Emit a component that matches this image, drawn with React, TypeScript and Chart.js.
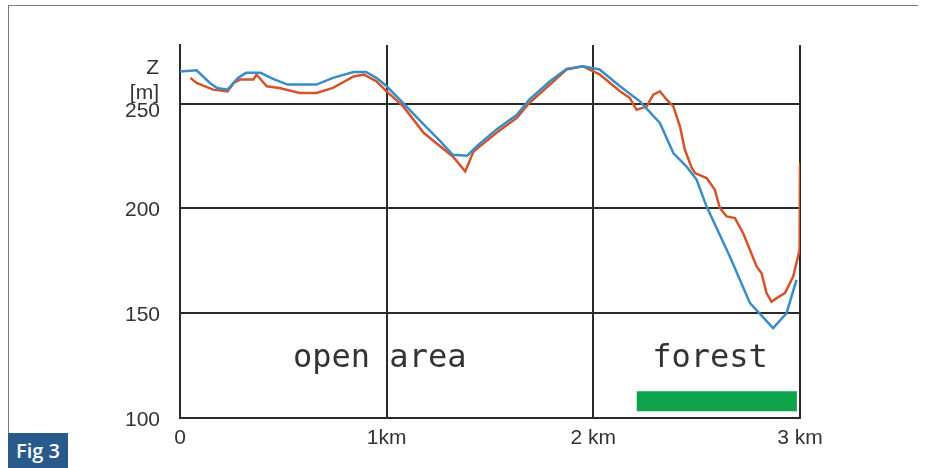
import React, { useEffect, useRef } from 'react';
import { Chart, registerables, ChartConfiguration, Plugin } from 'chart.js';

Chart.register(...registerables);

// Elevation profile, distance in km, height in m
const blueKm = [0, 0.08, 0.145, 0.18, 0.23, 0.28, 0.32, 0.39, 0.45, 0.52, 0.66, 0.74, 0.84, 0.9, 0.95, 1.0, 1.08, 1.18, 1.26, 1.32, 1.39, 1.435, 1.53, 1.63, 1.69, 1.79, 1.87, 1.95, 2.03, 2.129, 2.225, 2.322, 2.387, 2.451, 2.5, 2.548, 2.661, 2.758, 2.87, 2.935, 2.983];
const blueZ = [265.4, 265.9, 259.9, 257.5, 256.7, 262.3, 264.7, 264.7, 261.8, 259.1, 259.1, 262.3, 265.1, 265.1, 262.3, 258.3, 250.3, 240, 232, 225.6, 225.2, 229.6, 237.6, 244.7, 251.9, 260.7, 266.6, 267.8, 266.3, 258.3, 251.1, 240.8, 226.4, 220, 213.7, 200.9, 177, 154.8, 142.9, 150, 165.9];

const redKm = [0.05, 0.08, 0.16, 0.23, 0.26, 0.29, 0.355, 0.37, 0.42, 0.48, 0.58, 0.66, 0.74, 0.84, 0.89, 0.95, 1.0, 1.08, 1.18, 1.26, 1.32, 1.38, 1.42, 1.53, 1.63, 1.69, 1.79, 1.87, 1.95, 2.03, 2.129, 2.177, 2.209, 2.234, 2.258, 2.29, 2.322, 2.355, 2.387, 2.419, 2.443, 2.476, 2.492, 2.548, 2.588, 2.612, 2.645, 2.685, 2.725, 2.758, 2.79, 2.814, 2.838, 2.862, 2.887, 2.927, 2.967, 2.998, 3.0];
const redZ = [262.3, 259.9, 256.7, 255.9, 259.9, 261.5, 261.5, 263.9, 258.3, 257.5, 255.1, 255.1, 257.5, 263, 263.9, 260.7, 255.9, 248.7, 236, 229.6, 224.8, 217.7, 227.2, 236, 243.2, 250.3, 259.1, 266.3, 267.8, 264, 255.9, 252.7, 247.1, 247.9, 248.7, 254.3, 255.9, 251.9, 248.7, 239.2, 228, 219.3, 216.9, 214.5, 208.9, 200.2, 196.2, 195.4, 188.2, 180.2, 172.3, 169.1, 159.6, 155.5, 157.2, 159.6, 167.5, 180.2, 221.8];

// forest strip
const forestKm = [2.21, 2.985];
const forestZ = [108, 108];

const xTickValues = [0, 1, 2, 3];
const xTickLabels = ['0', '1km', '2 km', '3 km'];
const yTickValues = [100, 150, 200, 250];
const yTickLabels = ['100', '150', '200', '250'];

const areaLabels = ['open area', 'forest'];
const areaKm = [0.547, 2.285];
const areaZ = [124.4, 124.4];

const unitLines = ['Z', '[m]'];
const unitZ = [266.8, 254.8];

const toPoints = (xs: number[], ys: number[]) => xs.map((x, i) => ({ x, y: ys[i] }));

const textPlugin: Plugin<'line'> = {
  id: 'profileText',
  afterDraw(chart) {
    const { ctx, scales, chartArea } = chart;
    const x = scales.x;
    const y = scales.y;
    ctx.save();
    ctx.fillStyle = '#333';
    ctx.font = '32px "DejaVu Sans Mono"';
    ctx.textAlign = 'left';
    ctx.textBaseline = 'alphabetic';
    areaLabels.forEach((t, i) => {
      ctx.fillText(t, x.getPixelForValue(areaKm[i]), y.getPixelForValue(areaZ[i]));
    });
    ctx.font = '21px "Liberation Sans"';
    ctx.textAlign = 'right';
    ctx.textBaseline = 'middle';
    unitLines.forEach((t, i) => {
      ctx.fillText(t, chartArea.left - 21, y.getPixelForValue(unitZ[i]));
    });
    ctx.restore();
  },
};

const App: React.FC = () => {
  const canvasRef = useRef<HTMLCanvasElement | null>(null);

  useEffect(() => {
    const canvas = canvasRef.current;
    if (!canvas) return;

    const gridColor = '#2b2b2b';
    const tickFont = { family: '"Liberation Sans", Arial, sans-serif', size: 21 };

    const config: ChartConfiguration<'line'> = {
      type: 'line',
      data: {
        datasets: [
          {
            data: toPoints(blueKm, blueZ),
            borderColor: '#3b8cc6',
            borderWidth: 2.5,
            pointRadius: 0,
            tension: 0,
          },
          {
            data: toPoints(redKm, redZ),
            borderColor: '#d4532b',
            borderWidth: 2.5,
            pointRadius: 0,
            tension: 0,
          },
          {
            data: toPoints(forestKm, forestZ),
            borderColor: '#0ea24a',
            borderWidth: 20,
            borderCapStyle: 'butt',
            pointRadius: 0,
          },
        ],
      },
      options: {
        responsive: true,
        maintainAspectRatio: false,
        animation: false,
        layout: { padding: { left: 120, top: 45, right: 127, bottom: 20 } },
        plugins: { legend: { display: false }, tooltip: { enabled: false } },
        scales: {
          x: {
            type: 'linear',
            min: 0,
            max: 3,
            afterBuildTicks: (scale) => {
              scale.ticks = xTickValues.map((value) => ({ value }));
            },
            afterFit: (scale) => {
              scale.height = 30;
            },
            grid: { color: gridColor, lineWidth: 2, drawTicks: false },
            border: { color: gridColor, width: 2 },
            ticks: {
              padding: 8,
              color: '#333',
              font: tickFont,
              maxRotation: 0,
              callback: (v) => xTickLabels[xTickValues.indexOf(Number(v))] ?? '',
            },
          },
          y: {
            type: 'linear',
            min: 100,
            max: 278,
            afterBuildTicks: (scale) => {
              scale.ticks = yTickValues.map((value) => ({ value }));
            },
            afterFit: (scale) => {
              scale.width = 60;
            },
            grid: { color: gridColor, lineWidth: 2, drawTicks: false },
            border: { color: gridColor, width: 2 },
            ticks: {
              padding: 20,
              labelOffset: 2,
              color: '#333',
              // the top label sits a little below its line, under "Z [m]"
              font: (c: any) => (c.tick && c.tick.value === 250 ? { ...tickFont, lineHeight: 0.57 } : tickFont),
              callback: (v) => {
                const label = yTickLabels[yTickValues.indexOf(Number(v))] ?? '';
                return Number(v) === 250 ? ['', label] : label;
              },
            },
          },
        },
      },
      plugins: [textPlugin],
    };

    const chart = new Chart(canvas, config);
    return () => {
      chart.destroy();
    };
  }, []);

  return (
    <div style={{ position: 'fixed', left: 0, top: 0, width: 927, height: 468, background: '#fff' }}>
      <div
        style={{
          position: 'absolute',
          left: 8,
          top: 5,
          width: 909,
          height: 428,
          borderTop: '1.5px solid #7a7a7a',
          borderLeft: '1.5px solid #7a7a7a',
        }}
      />
      <div style={{ position: 'absolute', inset: 0 }}>
        <canvas ref={canvasRef} role="img" aria-label="Elevation profile over 3 km, open area and forest" />
      </div>
      <div
        style={{
          position: 'absolute',
          left: 8,
          top: 433,
          width: 60,
          height: 35,
          background: '#2a5a8b',
          color: '#fff',
          fontFamily: '"Open Sans", sans-serif',
          fontWeight: 600,
          fontSize: 20,
          lineHeight: '35px',
          textAlign: 'center',
        }}
      >
        Fig 3
      </div>
    </div>
  );
};

export default App;
